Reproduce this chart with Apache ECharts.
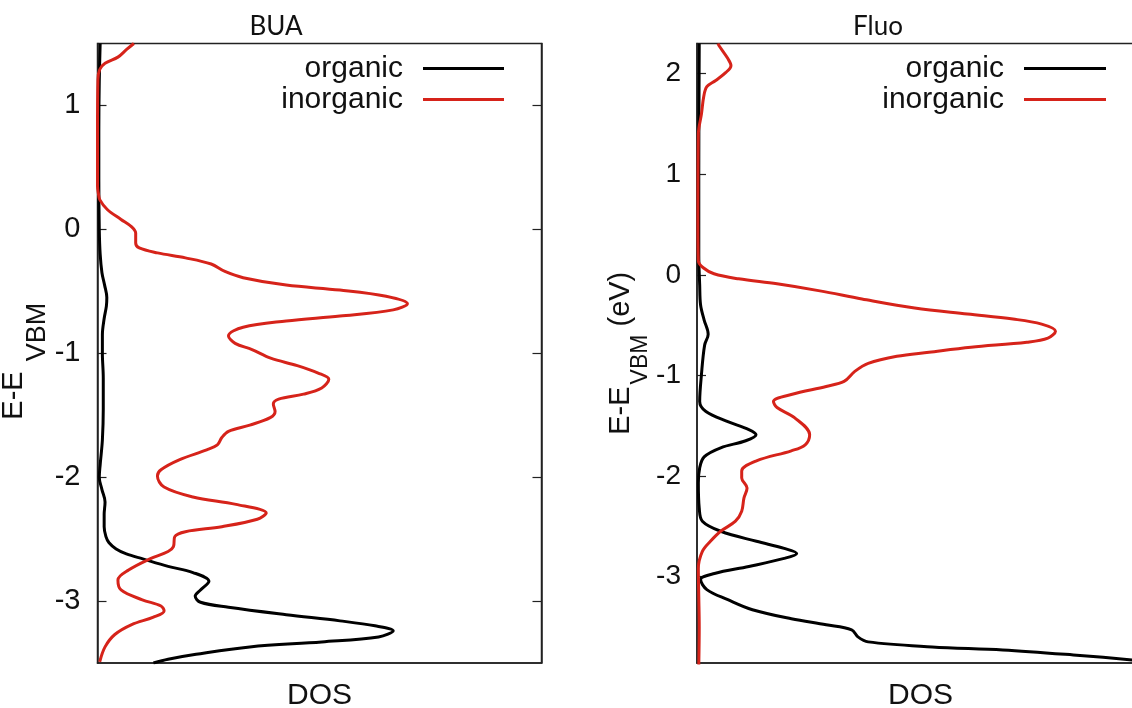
<!DOCTYPE html>
<html>
<head>
<meta charset="utf-8">
<script src="https://cdn.jsdelivr.net/npm/echarts@6/dist/echarts.min.js"></script>
<style>
html,body{margin:0;padding:0;background:#fff;}
#c{width:1132px;height:708px;}
</style>
</head>
<body>
<div id="c"></div>
<script>
// ---------- DATA ----------
const panelTitles = ['BUA', 'Fluo'];
const seriesNames = ['organic', 'inorganic'];
const buaTicks = [-3, -2, -1, 0, 1];
const fluoTicks = [-3, -2, -1, 0, 1, 2];
const buaRange = [-3.5, 1.5];
const fluoRange = [-3.86, 2.3];

// BUA organic (energy eV, DOS arb. units)
const buaOrgE = [1.5, 1.2, 0.8, 0.4, 0.0, -0.2, -0.35, -0.45, -0.55, -0.62, -0.72, -0.85, -1.0, -1.2, -1.45, -1.7, -1.9, -2.0, -2.1, -2.2, -2.3, -2.4, -2.48, -2.53, -2.58, -2.62, -2.66, -2.72, -2.77, -2.84, -2.91, -2.96, -3.01, -3.05, -3.11, -3.16, -3.2, -3.24, -3.29, -3.33, -3.37, -3.43, -3.47, -3.5];
const buaOrgD = [0.6, 0.4, 0.3, 0.3, 0.4, 0.6, 1.0, 1.6, 2.1, 2.0, 1.5, 1.1, 1.1, 1.3, 1.3, 1.1, 0.6, 0.4, 1.0, 1.7, 1.5, 1.5, 1.9, 2.6, 4.2, 6.5, 10.2, 15.9, 21.5, 25.1, 23.2, 22.0, 23.2, 29.5, 42.5, 54.6, 62.5, 66.6, 63.3, 50.5, 34.3, 22.2, 15.9, 12.6];

// BUA inorganic
const buaInoE = [1.5, 1.45, 1.39, 1.34, 1.29, 1.21, 0.8, 0.35, 0.29, 0.24, 0.16, 0.08, 0.02, -0.03, -0.11, -0.15, -0.19, -0.23, -0.28, -0.34, -0.39, -0.45, -0.49, -0.54, -0.60, -0.65, -0.70, -0.74, -0.79, -0.86, -0.92, -0.97, -1.04, -1.10, -1.16, -1.21, -1.28, -1.33, -1.37, -1.41, -1.47, -1.52, -1.58, -1.63, -1.68, -1.74, -1.78, -1.86, -1.94, -1.99, -2.08, -2.16, -2.22, -2.29, -2.34, -2.40, -2.44, -2.48, -2.56, -2.60, -2.66, -2.75, -2.83, -2.91, -2.99, -3.04, -3.08, -3.13, -3.19, -3.27, -3.37, -3.49];
const buaInoD = [8.2, 6.5, 4.6, 1.7, 0.5, 0.1, 0, 0, 0.2, 0.5, 2.2, 5.3, 7.7, 8.6, 8.6, 9.4, 13.5, 19.8, 25.6, 28.7, 32.8, 42.5, 54.6, 65, 69.8, 66.6, 54.6, 42.5, 32.8, 29.5, 31, 34.8, 39, 45, 49.7, 52.1, 50.5, 46.4, 40.8, 39.6, 40, 38.9, 34.3, 29.5, 28, 27, 24.6, 18.4, 14.3, 13.5, 15, 21.5, 31.2, 38, 36, 28, 19.8, 17.4, 17.1, 15.9, 11.8, 7, 4.6, 5.3, 10.1, 14.3, 15, 12.6, 7.7, 3.9, 1.7, 0.5];

// Fluo organic
const fluoOrgE = [2.3, 1.0, 0.2, -0.1, -0.3, -0.45, -0.59, -0.7, -0.99, -1.26, -1.36, -1.46, -1.54, -1.59, -1.65, -1.72, -1.81, -1.92, -2.07, -2.32, -2.45, -2.55, -2.65, -2.72, -2.77, -2.82, -2.9, -2.97, -3.03, -3.13, -3.23, -3.33, -3.42, -3.48, -3.53, -3.6, -3.65, -3.70, -3.73, -3.78, -3.83, -3.88];
const fluoOrgD = [0.5, 0.4, 0.4, 0.6, 0.8, 1.6, 2.5, 1.7, 1.0, 0.6, 2.0, 6.9, 11.6, 13.2, 10.9, 5.3, 1.6, 0.6, 0.3, 0.5, 1.2, 5.3, 13.3, 19.5, 22.3, 19.5, 11.6, 3.9, 0.8, 2.2, 6.9, 12.4, 21.1, 28.9, 34.6, 36.0, 38.3, 52.6, 68.4, 84.2, 97.5, 109];

// Fluo inorganic
const fluoInoE = [2.3, 2.28, 2.15, 2.08, 2.01, 1.93, 1.87, 1.77, 1.6, 1.4, 0.5, 0.14, 0.07, 0.01, -0.04, -0.09, -0.16, -0.24, -0.33, -0.39, -0.44, -0.49, -0.56, -0.63, -0.67, -0.72, -0.77, -0.81, -0.88, -0.96, -1.06, -1.11, -1.19, -1.26, -1.32, -1.42, -1.59, -1.69, -1.75, -1.85, -1.95, -2.02, -2.12, -2.22, -2.35, -2.45, -2.55, -2.65, -2.75, -2.92, -3.2, -3.5, -3.88];
const fluoInoD = [4.7, 4.9, 6.9, 7.6, 6.4, 4.1, 2.2, 1.5, 1.0, 0.3, 0.2, 0.3, 1.4, 3.8, 9.3, 17.9, 27.5, 36.9, 48.7, 60.5, 70.7, 77.1, 80.2, 78.5, 73.8, 61.3, 51.9, 44.7, 38.3, 35.3, 32.9, 28.9, 21.1, 17.1, 17.9, 21.8, 25.2, 24.2, 21.1, 13.3, 10.0, 10.0, 11.2, 10.5, 10.0, 8.6, 5.3, 3.0, 1.2, 0.3, 0.4, 0.5, 0.4];

// ---------- CHART ----------
const FONT = 'Liberation Sans';
const BLACK = '#000000';
const RED = '#d6231a';
const TXT = '#111111';
const zip = (d, e) => d.map((v, i) => [v, e[i]]);

function yName(withUnit, mainSize, subSize, pad, gapBefore, outerPad) {
  return {
    name: withUnit ? '{m|E-E}{s|VBM}{m| (eV)}' : '{m|E-E}{s|VBM}',
    nameLocation: 'middle',
    nameRotate: 90,
    nameTextStyle: {
      padding: outerPad,
      rich: {
        m: { fontFamily: FONT, fontSize: mainSize, color: TXT, lineHeight: 30, verticalAlign: 'top' },
        s: { fontFamily: FONT, fontSize: subSize, color: TXT, lineHeight: subSize, verticalAlign: 'top', padding: [pad, 0, 0, gapBefore] }
      }
    }
  };
}

const chart = echarts.init(document.getElementById('c'), null, { renderer: 'canvas' });

const lineSeries = (name, xi, yi, data, color) => ({
  name, type: 'line', xAxisIndex: xi, yAxisIndex: yi, data,
  smooth: 0.35, showSymbol: false, symbol: 'none', clip: true,
  lineStyle: { color, width: 3 }, itemStyle: { color }, z: 3
});

const yTickCommon = (ticks) => ({
  axisLine: { show: true, onZero: false, lineStyle: { color: '#222', width: 1.5 } },
  axisTick: { show: true, inside: true, length: 9, lineStyle: { color: '#222', width: 1.2 }, customValues: ticks },
  splitLine: { show: false }
});

const xCommon = {
  type: 'value', min: 0, max: 100, axisLabel: { show: false }, axisTick: { show: false }, splitLine: { show: false },
  axisLine: { show: true, onZero: false, lineStyle: { color: '#222', width: 1.5 } },
  name: 'DOS', nameLocation: 'middle', nameGap: 18,
  nameTextStyle: { fontFamily: FONT, fontSize: 30, color: TXT, verticalAlign: 'top' }
};

const legendCommon = {
  data: seriesNames, orient: 'vertical', align: 'right', top: 53, itemGap: 0,
  icon: 'rect', itemHeight: 3, padding: 0,
  textStyle: { fontFamily: FONT, fontSize: 30, color: TXT, lineHeight: 31, padding: [0, 15, 0, 0] }
};

const option = {
  backgroundColor: '#ffffff',
  animation: false,
  title: [
    { text: panelTitles[0], left: 276, top: 12, textAlign: 'center', padding: 0,
      textStyle: { fontFamily: 'Lato', fontWeight: 'normal', fontSize: 26, color: TXT, lineHeight: 30 } },
    { text: panelTitles[1], left: 878, top: 12, textAlign: 'center', padding: 0,
      textStyle: { fontFamily: 'Lato', fontWeight: 'normal', fontSize: 26, color: TXT, lineHeight: 30 } }
  ],
  legend: [
    Object.assign({ right: 628, itemWidth: 81 }, legendCommon),
    Object.assign({ right: 26, itemWidth: 82 }, legendCommon)
  ],
  grid: [
    { left: 97.5, top: 43.5, width: 444, height: 619.5, outerBoundsMode: 'none', containLabel: false,
      show: true, borderColor: '#222', borderWidth: 1.5, backgroundColor: 'transparent' },
    { left: 697, top: 43.5, width: 447, height: 619.5, outerBoundsMode: 'none', containLabel: false,
      show: true, borderColor: '#222', borderWidth: 1.5, backgroundColor: 'transparent' }
  ],
  xAxis: [
    Object.assign({ gridIndex: 0 }, xCommon),
    Object.assign({ gridIndex: 1 }, xCommon)
  ],
  yAxis: [
    Object.assign({ gridIndex: 0, type: 'value', position: 'left', min: buaRange[0], max: buaRange[1],
      axisLabel: { show: true, customValues: buaTicks, fontFamily: FONT, fontSize: 29, color: TXT, margin: 17 },
      nameGap: 26 }, yTickCommon(buaTicks), yName(false, 29, 27, 24, 10, [0, 16, 0, 0])),
    Object.assign({ gridIndex: 0, type: 'value', position: 'right', min: buaRange[0], max: buaRange[1],
      axisLabel: { show: false } }, yTickCommon(buaTicks)),
    Object.assign({ gridIndex: 1, type: 'value', position: 'left', min: fluoRange[0], max: fluoRange[1],
      axisLabel: { show: true, customValues: fluoTicks, fontFamily: FONT, fontSize: 28, color: TXT, margin: 16 },
      nameGap: 29 }, yTickCommon(fluoTicks), yName(true, 29, 23, 23, 2, [0, 0, 0, 0]))
  ],
  series: [
    lineSeries(seriesNames[0], 0, 0, zip(buaOrgD, buaOrgE), BLACK),
    lineSeries(seriesNames[1], 0, 0, zip(buaInoD, buaInoE), RED),
    lineSeries(seriesNames[0], 1, 2, zip(fluoOrgD, fluoOrgE), BLACK),
    lineSeries(seriesNames[1], 1, 2, zip(fluoInoD, fluoInoE), RED)
  ]
};
chart.setOption(option);
</script>
</body>
</html>
